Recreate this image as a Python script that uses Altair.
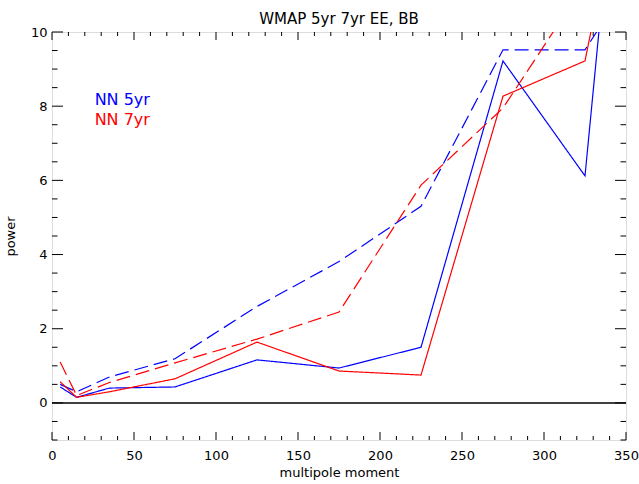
import altair as alt
import pandas as pd
import numpy as np

# ---- data ----
multipole = [5, 15, 35, 75, 125, 175, 225, 275, 325, 335]
nn5_solid = [0.43, 0.15, 0.40, 0.43, 1.16, 0.94, 1.50, 9.22, 6.12, 10.7]
nn5_dashed = [0.50, 0.30, 0.70, 1.19, 2.60, 3.81, 5.30, 9.52, 9.52, 10.2]
nn7_solid = [0.57, 0.15, 0.30, 0.65, 1.64, 0.86, 0.75, 8.27, 9.22, 11.4]
nn7_dashed = [1.10, 0.20, 0.55, 1.08, 1.72, 2.45, 5.87, 7.95, 11.3, 12.0]

series_names = ["5yr EE", "5yr BB", "7yr EE", "7yr BB"]
series_vals = [nn5_solid, nn5_dashed, nn7_solid, nn7_dashed]
series_color = ["5yr", "5yr", "7yr", "7yr"]
series_style = ["solid", "dashed", "solid", "dashed"]

legend_labels = ["NN  5yr", "NN  7yr"]
legend_groups = ["5yr", "7yr"]
legend_x = [26, 26]
legend_y = [8.02, 7.49]

x_major = list(range(0, 351, 50))
x_minor = [v for v in range(0, 351, 10) if v % 50 != 0]
y_major = [0, 2, 4, 6, 8, 10]
y_minor = [v / 2 for v in range(-2, 21) if v % 4 != 0]

W, H = 574, 408
FONT = "DejaVu Sans"

rows = []
for name, vals, col, sty in zip(series_names, series_vals, series_color, series_style):
    for m, v in zip(multipole, vals):
        rows.append({"l": m, "p": v, "series": name, "grp": col, "style": sty})
df = pd.DataFrame(rows)

xs = alt.Scale(domain=[0, 350], nice=False, zero=False)
ys = alt.Scale(domain=[-1, 10], nice=False, zero=False)
cscale = alt.Scale(domain=["5yr", "7yr"], range=["#0000ff", "#ff0000"])

lines = alt.Chart(df).mark_line(strokeWidth=1.2, clip=True).encode(
    x=alt.X("l:Q", scale=xs,
            axis=alt.Axis(values=x_major, title="multipole moment", ticks=False, tickSize=0,
                          domain=False, grid=False, labelPadding=9, labelFontSize=13,
                          labelFont=FONT, labelColor="black", titleFont=FONT, titleFontSize=13,
                          titleFontWeight="normal", titleColor="black", titlePadding=4,
                          labelFlush=False)),
    y=alt.Y("p:Q", scale=ys,
            axis=alt.Axis(values=y_major, title="power", ticks=False, tickSize=0,
                          domain=False, grid=False, labelPadding=5, labelFontSize=13,
                          labelFont=FONT, labelColor="black", titleFont=FONT, titleFontSize=13,
                          titleFontWeight="normal", titleColor="black", titlePadding=13,
                          labelFlush=False)),
    color=alt.Color("grp:N", scale=cscale, legend=None),
    strokeDash=alt.StrokeDash("style:N",
                              scale=alt.Scale(domain=["solid", "dashed"], range=[[1, 0], [14, 6]]),
                              legend=None),
    detail="series:N",
)

zero = alt.Chart(pd.DataFrame({"z": [0]})).mark_rule(color="black", strokeWidth=1.5).encode(
    y=alt.Y("z:Q", scale=ys)
)

def xticks(vals, length):
    d = pd.DataFrame({"t": vals})
    b = alt.Chart(d).mark_rule(color="black", strokeWidth=1).encode(
        x=alt.X("t:Q", scale=xs), y=alt.value(H), y2=alt.value(H - length))
    t = alt.Chart(d).mark_rule(color="black", strokeWidth=1).encode(
        x=alt.X("t:Q", scale=xs), y=alt.value(0), y2=alt.value(length))
    return [b, t]

def yticks(vals, length):
    d = pd.DataFrame({"t": vals})
    l = alt.Chart(d).mark_rule(color="black", strokeWidth=1).encode(
        y=alt.Y("t:Q", scale=ys), x=alt.value(0), x2=alt.value(length))
    r = alt.Chart(d).mark_rule(color="black", strokeWidth=1).encode(
        y=alt.Y("t:Q", scale=ys), x=alt.value(W), x2=alt.value(W - length))
    return [l, r]

ticks = xticks(x_major, 8) + xticks(x_minor, 4) + yticks(y_major, 11) + yticks(y_minor, 5.5)

leg = alt.Chart(pd.DataFrame({"lab": legend_labels, "grp": legend_groups,
                              "x": legend_x, "y": legend_y})).mark_text(
    align="left", baseline="alphabetic", fontSize=16, font=FONT
).encode(
    x=alt.X("x:Q", scale=xs), y=alt.Y("y:Q", scale=ys), text="lab:N",
    color=alt.Color("grp:N", scale=cscale, legend=None),
)

chart = alt.layer(zero, lines, leg, *ticks).properties(
    width=W, height=H,
    title=alt.TitleParams("WMAP 5yr 7yr EE, BB", font=FONT, fontSize=15,
                          fontWeight="normal", color="black", offset=-1, anchor="middle"),
    padding={"left": 52, "top": 32, "right": 13, "bottom": 44},
    autosize=alt.AutoSizeParams(type="none"),
).configure_view(stroke="black", strokeWidth=1.5).configure(background="white")

chart.save("out.html", embed_options={"renderer": "svg", "actions": False})
